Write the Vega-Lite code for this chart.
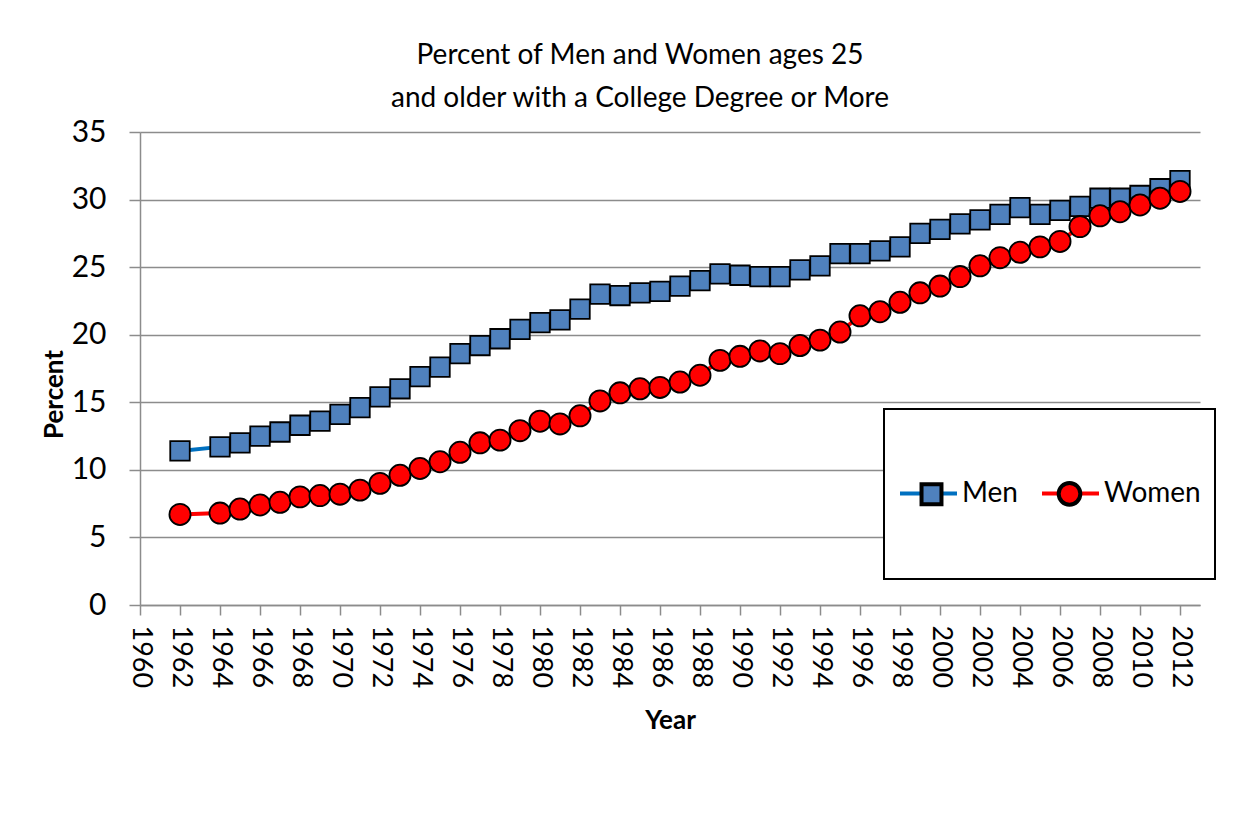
{
  "$schema": "https://vega.github.io/schema/vega-lite/v6.json",
  "autosize": "none",
  "width": 1060,
  "height": 473,
  "padding": {"left": 140, "top": 132, "right": 53, "bottom": 224},
  "background": "white",
  "title": {
    "text": ["Percent of Men and Women ages 25", "and older with a College Degree or More"],
    "font": "Lato",
    "fontSize": 28,
    "fontWeight": "normal",
    "color": "black",
    "lineHeight": 43,
    "offset": 4,
    "frame": "group",
    "dx": -30
  },
  "data": {
    "values": [
      {"year": 1962, "series": "Men", "pct": 11.4},
      {"year": 1964, "series": "Men", "pct": 11.7},
      {"year": 1965, "series": "Men", "pct": 12.0},
      {"year": 1966, "series": "Men", "pct": 12.5},
      {"year": 1967, "series": "Men", "pct": 12.8},
      {"year": 1968, "series": "Men", "pct": 13.3},
      {"year": 1969, "series": "Men", "pct": 13.6},
      {"year": 1970, "series": "Men", "pct": 14.1},
      {"year": 1971, "series": "Men", "pct": 14.6},
      {"year": 1972, "series": "Men", "pct": 15.4},
      {"year": 1973, "series": "Men", "pct": 16.0},
      {"year": 1974, "series": "Men", "pct": 16.9},
      {"year": 1975, "series": "Men", "pct": 17.6},
      {"year": 1976, "series": "Men", "pct": 18.6},
      {"year": 1977, "series": "Men", "pct": 19.2},
      {"year": 1978, "series": "Men", "pct": 19.7},
      {"year": 1979, "series": "Men", "pct": 20.4},
      {"year": 1980, "series": "Men", "pct": 20.9},
      {"year": 1981, "series": "Men", "pct": 21.1},
      {"year": 1982, "series": "Men", "pct": 21.9},
      {"year": 1983, "series": "Men", "pct": 23.0},
      {"year": 1984, "series": "Men", "pct": 22.9},
      {"year": 1985, "series": "Men", "pct": 23.1},
      {"year": 1986, "series": "Men", "pct": 23.2},
      {"year": 1987, "series": "Men", "pct": 23.6},
      {"year": 1988, "series": "Men", "pct": 24.0},
      {"year": 1989, "series": "Men", "pct": 24.5},
      {"year": 1990, "series": "Men", "pct": 24.4},
      {"year": 1991, "series": "Men", "pct": 24.3},
      {"year": 1992, "series": "Men", "pct": 24.3},
      {"year": 1993, "series": "Men", "pct": 24.8},
      {"year": 1994, "series": "Men", "pct": 25.1},
      {"year": 1995, "series": "Men", "pct": 26.0},
      {"year": 1996, "series": "Men", "pct": 26.0},
      {"year": 1997, "series": "Men", "pct": 26.2},
      {"year": 1998, "series": "Men", "pct": 26.5},
      {"year": 1999, "series": "Men", "pct": 27.5},
      {"year": 2000, "series": "Men", "pct": 27.8},
      {"year": 2001, "series": "Men", "pct": 28.2},
      {"year": 2002, "series": "Men", "pct": 28.5},
      {"year": 2003, "series": "Men", "pct": 28.9},
      {"year": 2004, "series": "Men", "pct": 29.4},
      {"year": 2005, "series": "Men", "pct": 28.9},
      {"year": 2006, "series": "Men", "pct": 29.2},
      {"year": 2007, "series": "Men", "pct": 29.5},
      {"year": 2008, "series": "Men", "pct": 30.1},
      {"year": 2009, "series": "Men", "pct": 30.1},
      {"year": 2010, "series": "Men", "pct": 30.3},
      {"year": 2011, "series": "Men", "pct": 30.8},
      {"year": 2012, "series": "Men", "pct": 31.4},
      {"year": 1962, "series": "Women", "pct": 6.7},
      {"year": 1964, "series": "Women", "pct": 6.8},
      {"year": 1965, "series": "Women", "pct": 7.1},
      {"year": 1966, "series": "Women", "pct": 7.4},
      {"year": 1967, "series": "Women", "pct": 7.6},
      {"year": 1968, "series": "Women", "pct": 8.0},
      {"year": 1969, "series": "Women", "pct": 8.1},
      {"year": 1970, "series": "Women", "pct": 8.2},
      {"year": 1971, "series": "Women", "pct": 8.5},
      {"year": 1972, "series": "Women", "pct": 9.0},
      {"year": 1973, "series": "Women", "pct": 9.6},
      {"year": 1974, "series": "Women", "pct": 10.1},
      {"year": 1975, "series": "Women", "pct": 10.6},
      {"year": 1976, "series": "Women", "pct": 11.3},
      {"year": 1977, "series": "Women", "pct": 12.0},
      {"year": 1978, "series": "Women", "pct": 12.2},
      {"year": 1979, "series": "Women", "pct": 12.9},
      {"year": 1980, "series": "Women", "pct": 13.6},
      {"year": 1981, "series": "Women", "pct": 13.4},
      {"year": 1982, "series": "Women", "pct": 14.0},
      {"year": 1983, "series": "Women", "pct": 15.1},
      {"year": 1984, "series": "Women", "pct": 15.7},
      {"year": 1985, "series": "Women", "pct": 16.0},
      {"year": 1986, "series": "Women", "pct": 16.1},
      {"year": 1987, "series": "Women", "pct": 16.5},
      {"year": 1988, "series": "Women", "pct": 17.0},
      {"year": 1989, "series": "Women", "pct": 18.1},
      {"year": 1990, "series": "Women", "pct": 18.4},
      {"year": 1991, "series": "Women", "pct": 18.8},
      {"year": 1992, "series": "Women", "pct": 18.6},
      {"year": 1993, "series": "Women", "pct": 19.2},
      {"year": 1994, "series": "Women", "pct": 19.6},
      {"year": 1995, "series": "Women", "pct": 20.2},
      {"year": 1996, "series": "Women", "pct": 21.4},
      {"year": 1997, "series": "Women", "pct": 21.7},
      {"year": 1998, "series": "Women", "pct": 22.4},
      {"year": 1999, "series": "Women", "pct": 23.1},
      {"year": 2000, "series": "Women", "pct": 23.6},
      {"year": 2001, "series": "Women", "pct": 24.3},
      {"year": 2002, "series": "Women", "pct": 25.1},
      {"year": 2003, "series": "Women", "pct": 25.7},
      {"year": 2004, "series": "Women", "pct": 26.1},
      {"year": 2005, "series": "Women", "pct": 26.5},
      {"year": 2006, "series": "Women", "pct": 26.9},
      {"year": 2007, "series": "Women", "pct": 28.0},
      {"year": 2008, "series": "Women", "pct": 28.8},
      {"year": 2009, "series": "Women", "pct": 29.1},
      {"year": 2010, "series": "Women", "pct": 29.6},
      {"year": 2011, "series": "Women", "pct": 30.1},
      {"year": 2012, "series": "Women", "pct": 30.6}
    ]
  },
  "encoding": {
    "x": {
      "field": "year",
      "type": "quantitative",
      "scale": {"domain": [1960, 2013], "nice": false, "zero": false},
      "axis": {
        "title": "Year",
        "values": [1960, 1962, 1964, 1966, 1968, 1970, 1972, 1974, 1976, 1978, 1980, 1982, 1984, 1986, 1988, 1990, 1992, 1994, 1996, 1998, 2000, 2002, 2004, 2006, 2008, 2010, 2012],
        "format": "d",
        "labelAngle": 90,
        "labelFontSize": 27,
        "labelPadding": 10,
        "tickSize": 10,
        "grid": false,
        "titleFontSize": 26,
        "titleFontWeight": "bold",
        "titlePadding": 20
      }
    },
    "y": {
      "field": "pct",
      "type": "quantitative",
      "scale": {"domain": [0, 35], "nice": false},
      "axis": {
        "title": "Percent",
        "values": [0, 5, 10, 15, 20, 25, 30, 35],
        "labelFontSize": 30,
        "labelPadding": 23,
        "tickSize": 11,
        "grid": true,
        "titleFontSize": 26,
        "titleFontWeight": "bold",
        "titleAngle": -90,
        "titleAlign": "center",
        "titleBaseline": "middle",
        "titleX": -86,
        "titleY": 262
      }
    }
  },
  "layer": [
    {
      "mark": {"type": "line", "strokeWidth": 4},
      "encoding": {
        "color": {
          "field": "series",
          "type": "nominal",
          "scale": {"domain": ["Men", "Women"], "range": ["#0070C0", "#FF0000"]},
          "legend": {
            "orient": "none",
            "legendX": 744,
            "legendY": 277,
            "direction": "horizontal",
            "title": "\u00a0",
            "titleFont": "Lato",
            "titleFontSize": 28,
            "titlePadding": 12,
            "padding": 14,
            "labelOffset": 3,
            "columnPadding": 16,
            "fillColor": "white",
            "strokeColor": "black",
            "symbolType": "stroke",
            "symbolSize": 3249,
            "symbolStrokeWidth": 4,
            "encode": {
              "legend": {"update": {"strokeWidth": {"value": 2}}},
              "labels": {"update": {"text": {"signal": "[datum.label, '\u00a0', '\u00a0']"}, "lineHeight": {"value": 28.75}}}
            }
          }
        }
      }
    },
    {
      "mark": {"type": "point", "filled": true, "opacity": 1, "stroke": "black", "strokeWidth": 1.8, "size": 3100},
      "encoding": {
        "fill": {
          "field": "series",
          "type": "nominal",
          "scale": {"range": ["#4F81BD", "#FF0000"]},
          "legend": {
            "orient": "none",
            "legendX": 761,
            "legendY": 331,
            "direction": "horizontal",
            "title": null,
            "padding": 0,
            "labelOffset": 0,
            "columnPadding": 77,
            "symbolSize": 3249,
            "symbolStrokeWidth": 4,
            "symbolStrokeColor": "black",
            "labelExpr": "''",
            "encode": {
              "symbols": {"update": {"strokeWidth": {"value": 1.8}, "stroke": {"value": "black"}}}
            }
          }
        },
        "shape": {
          "field": "series",
          "type": "nominal",
          "scale": {"range": ["M-0.35,-0.35L0.35,-0.35L0.35,0.35L-0.35,0.35Z", "M-0.38,0A0.38,0.38,0,1,0,0.38,0A0.38,0.38,0,1,0,-0.38,0Z"]}
        }
      }
    }
  ],
  "config": {
    "font": "Lato",
    "view": {"stroke": null},
    "axis": {
      "labelFont": "Lato",
      "titleFont": "Lato",
      "labelColor": "black",
      "titleColor": "black",
      "domainColor": "#8c8c8c",
      "domainWidth": 1.5,
      "tickColor": "#8c8c8c",
      "tickWidth": 1.5,
      "gridColor": "#8c8c8c",
      "gridWidth": 1.3,
      "gridOpacity": 1
    },
    "legend": {
      "labelFont": "Lato",
      "labelFontSize": 28,
      "labelColor": "black",
      "labelLimit": 400
    }
  }
}
